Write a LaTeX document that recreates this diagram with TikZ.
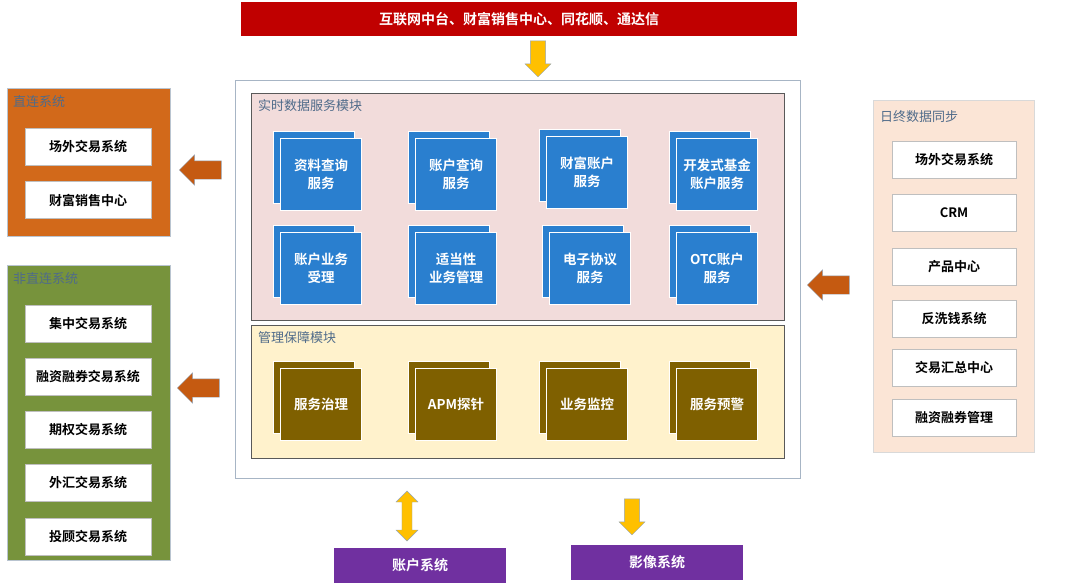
\documentclass[tikz,border=0pt]{standalone}
\usepackage{fontspec}
\setmainfont{Noto Sans CJK SC}
\newfontfamily\cjkb{Noto Sans CJK SC Bold}
\usetikzlibrary{shapes.arrows}
\definecolor{topred}{HTML}{C00000}
\definecolor{blueb}{HTML}{2A7FCF}
\definecolor{brownb}{HTML}{7F6000}
\definecolor{orangeb}{HTML}{D2691A}
\definecolor{greenb}{HTML}{77933C}
\definecolor{pinkb}{HTML}{F2DCDB}
\definecolor{creamb}{HTML}{FFF2CC}
\definecolor{peachb}{HTML}{FBE5D6}
\definecolor{purpleb}{HTML}{7030A0}
\definecolor{labelc}{HTML}{4F6B8A}
\definecolor{arrowb}{HTML}{C55A11}
\definecolor{yarrow}{HTML}{FFC000}
\tikzset{
 rbox/.style={draw=none,inner sep=0},
 wbox/.style={fill=white,draw=black!25,minimum width=126pt,minimum height=37pt,font=\cjkb\fontsize{13}{15}\selectfont,inner sep=0},
 svc/.style={fill=#1,draw=white,line width=0.8pt,minimum width=81pt,minimum height=72pt,text=white,font=\cjkb\fontsize{13.5}{18}\selectfont,align=center,inner sep=0},
 lbl/.style={anchor=west,text=labelc,font=\fontsize{13}{15}\selectfont,inner sep=0},
 larr/.style={single arrow,single arrow head extend=6pt,fill=arrowb,draw=labelc!60,minimum height=42pt,minimum width=30pt,shape border rotate=180,inner sep=9pt},
 yarr/.style={single arrow,single arrow head extend=5pt,fill=yarrow,draw=labelc!60,minimum height=36pt,minimum width=26pt,shape border rotate=270,inner sep=7pt},
}
\begin{document}
\begin{tikzpicture}[x=1pt,y=-1pt]
\useasboundingbox (0,0) rectangle (1080,586);
\node[fill=topred,minimum width=556pt,minimum height=34pt,text=white,font=\cjkb\fontsize{14}{16}\selectfont,inner sep=0] (top) at (519,19) {互联网中台、财富销售中心、同花顺、通达信};
\node[yarr] (a1) at (538,55) {};
\draw[draw=labelc!50,line width=0.8pt] (235,80) rectangle (800,478);
\node[rbox] (frame) at (517,279) {};
\draw[fill=pinkb,draw=black!65] (251,93) rectangle (784,320);
\node[lbl] (l1) at (258,106) {实时数据服务模块};
\draw[fill=creamb,draw=black!65] (251,325) rectangle (784,458);
\node[lbl] (l2) at (258,338) {管理保障模块};
\foreach \cx/\cy/\t [count=\i] in {321/174/{资料查询\\服务},456/174/{账户查询\\服务},587/172/{财富账户\\服务},717/174/{开发式基金\\账户服务},
 321/268/{账户业务\\受理},456/268/{适当性\\业务管理},590/268/{电子协议\\服务},717/268/{OTC账户\\服务}}{
 \node[svc=blueb] (b\i) at (\cx-7,\cy-7) {};
 \node[svc=blueb] (s\i) at (\cx,\cy) {\t};
}
\foreach \cx/\t [count=\i] in {321/服务治理,456/APM探针,587/业务监控,717/服务预警}{
 \node[svc=brownb] (m\i) at (\cx-7,397) {};
 \node[svc=brownb] (n\i) at (\cx,404) {\t};
}
\draw[fill=orangeb,draw=labelc!40] (7,88) rectangle (170,236);
\node[lbl] (ld) at (13,102) {直连系统};
\node[wbox] (d1) at (88,147) {场外交易系统};
\node[wbox] (d2) at (88,200) {财富销售中心};
\node[larr] (a2) at (205,170) {};
\draw[fill=greenb,draw=labelc!40] (7,265) rectangle (170,560);
\node[lbl] (ln) at (13,279) {非直连系统};
\foreach \y/\t [count=\i] in {324/集中交易系统,377/融资融券交易系统,430/期权交易系统,483/外汇交易系统,537/投顾交易系统}{
 \node[wbox] (g\i) at (88,\y) {\t};
}
\node[larr] (a3) at (203,388) {};
\draw[fill=peachb,draw=black!15] (873,100) rectangle (1034,452);
\node[lbl] (lr) at (880,117) {日终数据同步};
\foreach \y/\t [count=\i] in {160/场外交易系统,213/CRM,267/产品中心,319/反洗钱系统,368/交易汇总中心,418/融资融券管理}{
 \node[wbox,minimum width=124pt] (r\i) at (954,\y) {\t};
}
\node[larr] (a4) at (833,285) {};
\node[double arrow,double arrow head extend=5pt,fill=yarrow,draw=labelc!60,minimum height=50pt,minimum width=22pt,shape border rotate=90,inner sep=4pt] (a5) at (407,516) {};
\node[yarr] (a6) at (632,513) {};
\node[fill=purpleb,minimum width=172pt,minimum height=35pt,text=white,font=\cjkb\fontsize{14}{16}\selectfont,inner sep=0] (p1) at (420,565) {账户系统};
\node[fill=purpleb,minimum width=172pt,minimum height=35pt,text=white,font=\cjkb\fontsize{14}{16}\selectfont,inner sep=0] (p2) at (657,562) {影像系统};
\end{tikzpicture}
\end{document}
